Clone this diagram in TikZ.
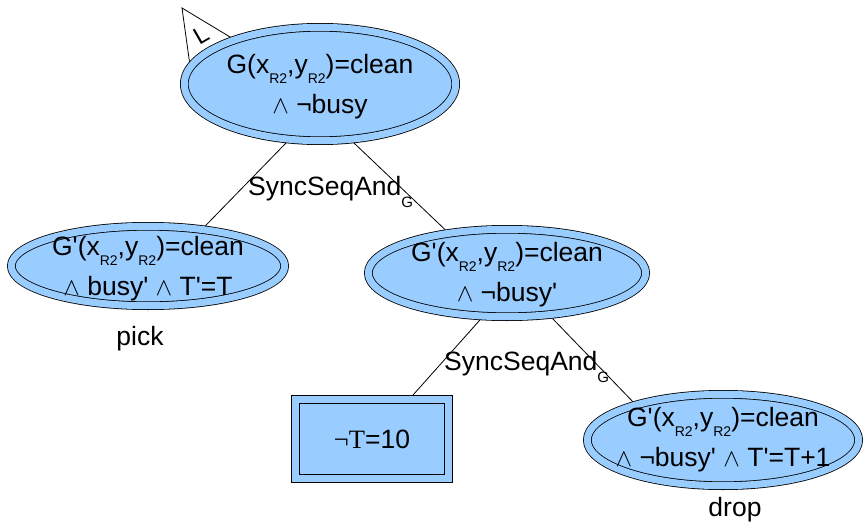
\documentclass[tikz,border=0pt]{standalone}
\usepackage{fontspec}
\setmainfont{Liberation Sans}[Ligatures=TeXOff]
\newfontfamily\serifT{Liberation Serif}
\usetikzlibrary{shapes.geometric}
\definecolor{nodeblue}{RGB}{153,204,255}
\newcommand{\sbs}[3]{\raisebox{-#2}{\fontsize{#3}{#3}\selectfont #1}}
\newcommand{\subR}{\sbs{R2}{10pt}{14}}
\newcommand{\subG}{\sbs{G}{12pt}{15}}
\newcommand{\aand}{\ensuremath{\wedge}}
\newcommand{\zbox}[2][-7pt]{\makebox[0pt]{\raisebox{#1}[0pt][0pt]{\begin{tabular}{@{}c@{}}#2\end{tabular}}}}
\begin{document}
\begin{tikzpicture}[x=1pt,y=-1pt,
  every node/.style={font=\fontsize{26.5}{40}\selectfont},
  dbl/.style={draw=black, line width=0.8pt, double=nodeblue, double distance=7pt, fill=nodeblue, outer sep=4.3pt, inner sep=0pt},
  dblell/.style={dbl, ellipse},
  dblrect/.style={dbl, rectangle},
  conn/.style={draw=black, line width=0.8pt}]
\useasboundingbox (0,0) rectangle (865,530);
% flag
\coordinate (flagtip) at (182,8);
\coordinate (flagr) at (245,46);
\coordinate (flagl) at (192,80);
\draw[line width=0.8pt, fill=white] (flagtip) -- (flagr) -- (flagl) -- cycle;
\node[rotate=30, font=\fontsize{24}{24}\selectfont] (flagL) at (201,35) {L};
% nodes
\node[dblell, minimum width=271.4pt, minimum height=113.4pt] (top) at (320,84)
  {\zbox[-7.5pt]{G(x\subR,y\subR)=clean\\\aand{} ¬busy}};
\node[dblell, minimum width=273.4pt, minimum height=79.4pt] (left) at (148,266)
  {\zbox[-8pt]{G'(x\subR,y\subR)=clean\\\aand{} busy' \aand{} T'=T}};
\node[dblell, minimum width=277.4pt, minimum height=87.4pt] (mid) at (507,273)
  {\zbox[-7pt]{G'(x\subR,y\subR)=clean\\\aand{} ¬busy'}};
\node[dblrect, minimum width=153.4pt, minimum height=79.4pt] (rect) at (372,439)
  {{\serifT ¬T}=10};
\node[dblell, minimum width=271.4pt, minimum height=91.4pt] (br) at (723,440)
  {\zbox[-4.5pt]{G'(x\subR,y\subR)=clean\\\aand{} ¬busy' \aand{} T'=T+1}};
% labels
\node[anchor=base] (pick) at (140,345) {pick};
\node[anchor=base] (drop) at (735,516) {drop};
\node[anchor=base west, inner sep=0pt] (sync1) at (248,195) {SyncSeqAnd\subG};
\node[anchor=base west, inner sep=0pt] (sync2) at (444,370) {SyncSeqAnd\subG};
% connectors
\draw[conn] (top.240) -- (left.35);
\draw[conn] (top.300) -- (mid.145);
\draw[conn] (mid.240) -- (rect.47);
\draw[conn] (mid.315) -- (br.157);
\end{tikzpicture}
\end{document}
